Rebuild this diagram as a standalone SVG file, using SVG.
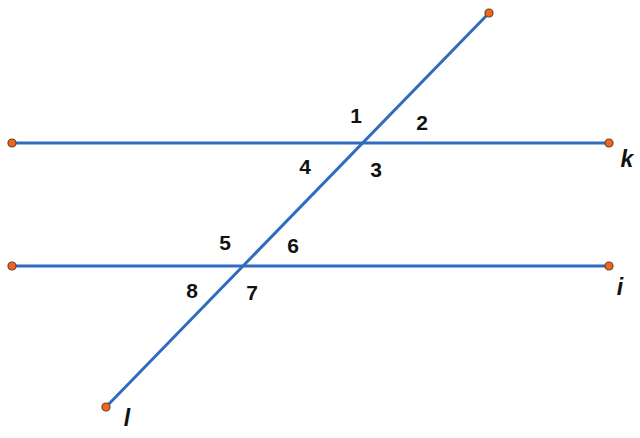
<svg xmlns="http://www.w3.org/2000/svg" width="640" height="438" viewBox="0 0 640 438">
<style>
.ln{stroke:#2f6cc0;stroke-width:3;fill:none;stroke-linecap:round}
.pt{fill:#f2661c;stroke:#6a4030;stroke-width:1.2}
.num{font-family:"Liberation Sans",Arial,sans-serif;font-size:21px;font-weight:bold;fill:#111;text-anchor:middle}
.var{font-family:"Liberation Sans",Arial,sans-serif;font-size:23px;font-weight:bold;font-style:italic;fill:#111;text-anchor:middle}
</style>
<rect width="640" height="438" fill="#fff"/>
<g id="connectors">
<line class="ln" x1="12" y1="143" x2="609" y2="143"/>
<line class="ln" x1="12" y1="266" x2="609" y2="266"/>
<line class="ln" x1="489" y1="13" x2="106" y2="407"/>
</g>
<g id="point-k-left"><circle class="pt" cx="12" cy="143" r="4"/></g>
<g id="point-k-right"><circle class="pt" cx="609" cy="143" r="4"/></g>
<g id="point-i-left"><circle class="pt" cx="12" cy="266" r="4"/></g>
<g id="point-i-right"><circle class="pt" cx="609" cy="266" r="4"/></g>
<g id="point-l-top"><circle class="pt" cx="489" cy="13" r="4"/></g>
<g id="point-l-bottom"><circle class="pt" cx="106" cy="407" r="4"/></g>
<g id="angle-labels">
<text class="num" x="356" y="123">1</text>
<text class="num" x="422" y="130">2</text>
<text class="num" x="376" y="177">3</text>
<text class="num" x="305" y="174">4</text>
<text class="num" x="225" y="250">5</text>
<text class="num" x="293" y="253">6</text>
<text class="num" x="252" y="300">7</text>
<text class="num" x="192" y="298">8</text>
</g>
<g id="line-labels">
<text class="var" x="627" y="167">k</text>
<text class="var" x="620" y="295">i</text>
<text class="var" x="127" y="426">l</text>
</g>
</svg>
